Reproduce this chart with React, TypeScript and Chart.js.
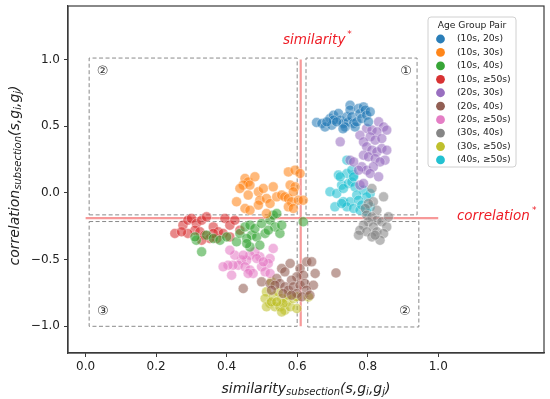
import React, { useEffect, useRef } from "react";
import { Chart, registerables } from "chart.js";

Chart.register(...registerables);

// ---------- data ----------
const groupLabels = [
  "(10s, 20s)", "(10s, 30s)", "(10s, 40s)", "(10s, \u226550s)", "(20s, 30s)",
  "(20s, 40s)", "(20s, \u226550s)", "(30s, 40s)", "(30s, \u226550s)", "(40s, \u226550s)",
];
const groupColors = [
  "31,119,180", "255,127,14", "44,160,44", "214,39,40", "148,103,189",
  "140,86,75", "227,119,194", "127,127,127", "188,189,34", "23,190,207",
];

const pts1020 = [
  [0.655, 0.527], [0.67, 0.52], [0.679, 0.494], [0.693, 0.557], [0.703, 0.582], [0.698, 0.507],
  [0.717, 0.595], [0.722, 0.545], [0.731, 0.52], [0.741, 0.57], [0.745, 0.532], [0.75, 0.657],
  [0.75, 0.62], [0.755, 0.57], [0.76, 0.52], [0.764, 0.494], [0.769, 0.532], [0.774, 0.632],
  [0.778, 0.595], [0.783, 0.557], [0.788, 0.644], [0.793, 0.62], [0.797, 0.582], [0.802, 0.532],
  [0.807, 0.607], [0.703, 0.545], [0.684, 0.532], [0.736, 0.494], [0.712, 0.532], [0.73, 0.48],
];
const pts1030 = [
  [0.452, 0.108], [0.461, 0.082], [0.447, 0.058], [0.48, 0.12], [0.4375, 0.033], [0.466, 0.058],
  [0.428, -0.067], [0.461, -0.017], [0.49, 0.008], [0.504, 0.033], [0.532, 0.045], [0.494, -0.055],
  [0.513, -0.042], [0.523, -0.08], [0.49, -0.092], [0.452, -0.117], [0.466, -0.13], [0.542, -0.03],
  [0.556, -0.017], [0.565, -0.03], [0.575, -0.042], [0.584, -0.067], [0.575, 0.157], [0.594, 0.17],
  [0.608, 0.145], [0.58, 0.058], [0.594, 0.045], [0.589, 0.008], [0.603, -0.055], [0.575, -0.105],
  [0.589, -0.117], [0.513, -0.155], [0.617, -0.055],
];
const pts1040 = [
  [0.314, -0.355], [0.31, -0.33], [0.329, -0.442], [0.343, -0.317], [0.362, -0.342], [0.381, -0.355],
  [0.4, -0.33], [0.428, -0.367], [0.4375, -0.304], [0.452, -0.255], [0.466, -0.242], [0.471, -0.317],
  [0.457, -0.342], [0.485, -0.33], [0.494, -0.392], [0.48, -0.267], [0.499, -0.23], [0.523, -0.205],
  [0.537, -0.255], [0.551, -0.304], [0.532, -0.167], [0.542, -0.155], [0.556, -0.242], [0.509, -0.304],
  [0.518, -0.28], [0.617, -0.217], [0.466, -0.405], [0.457, -0.38],
];
const pts1050 = [
  [0.253, -0.304], [0.276, -0.242], [0.29, -0.205], [0.3, -0.192], [0.314, -0.23], [0.329, -0.205],
  [0.343, -0.18], [0.31, -0.28], [0.29, -0.304], [0.324, -0.292], [0.338, -0.317], [0.362, -0.255],
  [0.376, -0.292], [0.395, -0.192], [0.409, -0.242], [0.423, -0.205], [0.39, -0.304], [0.409, -0.33],
  [0.372, -0.342], [0.352, -0.342], [0.4375, -0.28], [0.362, -0.304], [0.329, -0.355], [0.272, -0.292],
];
const pts2030 = [
  [0.831, 0.532], [0.845, 0.494], [0.854, 0.47], [0.797, 0.482], [0.812, 0.47], [0.826, 0.457],
  [0.778, 0.432], [0.807, 0.42], [0.821, 0.395], [0.84, 0.407], [0.788, 0.382], [0.722, 0.382],
  [0.797, 0.345], [0.812, 0.32], [0.826, 0.307], [0.84, 0.332], [0.854, 0.32], [0.788, 0.282],
  [0.802, 0.27], [0.821, 0.257], [0.849, 0.245], [0.835, 0.232], [0.783, 0.195], [0.797, 0.17],
  [0.75, 0.245], [0.76, 0.232], [0.774, 0.17], [0.816, 0.195], [0.807, 0.145], [0.831, 0.12],
  [0.778, 0.058], [0.788, 0.07],
];
const pts2040 = [
  [0.58, -0.529], [0.556, -0.567], [0.565, -0.592], [0.608, -0.567], [0.627, -0.517], [0.641, -0.517],
  [0.651, -0.604], [0.617, -0.617], [0.599, -0.629], [0.584, -0.654], [0.542, -0.642], [0.551, -0.679],
  [0.499, -0.667], [0.523, -0.679], [0.537, -0.692], [0.565, -0.704], [0.575, -0.729], [0.589, -0.704],
  [0.608, -0.692], [0.622, -0.679], [0.646, -0.692], [0.599, -0.754], [0.627, -0.729], [0.447, -0.717],
  [0.527, -0.729], [0.56, -0.754], [0.584, -0.767], [0.613, -0.779], [0.636, -0.767], [0.71, -0.6],
];
const pts2050 = [
  [0.532, -0.417], [0.523, -0.492], [0.518, -0.529], [0.494, -0.479], [0.48, -0.442], [0.466, -0.467],
  [0.457, -0.504], [0.442, -0.504], [0.433, -0.542], [0.418, -0.542], [0.404, -0.542], [0.39, -0.554],
  [0.423, -0.467], [0.452, -0.554], [0.466, -0.579], [0.475, -0.604], [0.499, -0.554], [0.509, -0.592],
  [0.523, -0.604], [0.461, -0.604], [0.414, -0.617], [0.485, -0.492], [0.504, -0.517], [0.447, -0.467],
  [0.409, -0.43],
];
const pts3040 = [
  [0.812, 0.033], [0.845, -0.03], [0.816, -0.067], [0.802, -0.08], [0.793, -0.117], [0.826, -0.13],
  [0.797, -0.167], [0.812, -0.18], [0.826, -0.205], [0.84, -0.217], [0.802, -0.217], [0.788, -0.242],
  [0.816, -0.255], [0.854, -0.255], [0.778, -0.28], [0.797, -0.292], [0.826, -0.292], [0.845, -0.305],
  [0.774, -0.317], [0.812, -0.33], [0.835, -0.355], [0.821, -0.317], [0.859, -0.18],
];
const pts3050 = [
  [0.527, -0.667], [0.513, -0.742], [0.509, -0.792], [0.523, -0.829], [0.513, -0.854], [0.532, -0.779],
  [0.546, -0.742], [0.556, -0.792], [0.57, -0.817], [0.537, -0.854], [0.551, -0.854], [0.565, -0.879],
  [0.58, -0.854], [0.56, -0.829], [0.527, -0.817], [0.589, -0.792], [0.575, -0.767], [0.599, -0.867],
  [0.556, -0.892], [0.542, -0.817], [0.599, -0.779], [0.632, -0.78],
];
const pts4050 = [
  [0.717, 0.133], [0.741, 0.145], [0.76, 0.133], [0.726, 0.058], [0.745, 0.07], [0.755, 0.082],
  [0.764, 0.045], [0.693, 0.008], [0.712, -0.005], [0.731, 0.033], [0.788, 0.02], [0.807, -0.005],
  [0.769, -0.017], [0.797, -0.03], [0.731, -0.067], [0.75, -0.067], [0.774, -0.055], [0.741, -0.105],
  [0.76, -0.117], [0.778, -0.13], [0.797, -0.142], [0.783, -0.092], [0.807, -0.105], [0.707, -0.105],
  [0.726, -0.08], [0.741, 0.245], [0.755, 0.17], [0.722, 0.12], [0.76, 0.12],
];
const groupPoints = [pts1020, pts1030, pts1040, pts1050, pts2030, pts2040, pts2050, pts3040, pts3050, pts4050];

const xTickValues = [0.0, 0.2, 0.4, 0.6, 0.8, 1.0];
const yTickValues = [-1.0, -0.5, 0.0, 0.5, 1.0];

const similarityStar = 0.61;
const correlationStar = -0.19;
// quadrant boxes: [xMin, xMax, yMin, yMax]
const quadBoxes = [
  [0.01, 0.6, -0.165, 1.01],
  [0.625, 0.94, -0.165, 1.01],
  [0.01, 0.6, -0.215, -1.0],
  [0.63, 0.945, -0.215, -1.005],
];
const quadLabels = ["\u2461", "\u2460", "\u2462", "\u2461"];
const quadLabelPos = [[0.048, 0.905], [0.909, 0.905], [0.049, -0.893], [0.905, -0.893]];

const FONT = "'DejaVu Sans', sans-serif";
const RED = "#ee1c25";

function drawRich(ctx: CanvasRenderingContext2D, parts: { t: string; s: number; dy?: number }[], cx: number, cy: number, color: string) {
  let w = 0;
  for (const p of parts) {
    ctx.font = `italic ${p.s}px ${FONT}`;
    w += ctx.measureText(p.t).width;
  }
  let x = cx - w / 2;
  ctx.fillStyle = color;
  ctx.textBaseline = "middle";
  ctx.textAlign = "left";
  for (const p of parts) {
    ctx.font = `italic ${p.s}px ${FONT}`;
    ctx.fillText(p.t, x, cy + (p.dy || 0));
    x += ctx.measureText(p.t).width;
  }
}

const decorPlugin = {
  id: "decor",
  afterDraw(chart: any) {
    const ctx: CanvasRenderingContext2D = chart.ctx;
    const { chartArea: ca, scales } = chart;
    const xs = scales.x, ys = scales.y;
    ctx.save();
    // frame
    ctx.strokeStyle = "#3a3a3a";
    ctx.lineWidth = 1.2;
    ctx.strokeRect(ca.left, ca.top, ca.right - ca.left, ca.bottom - ca.top);

    // quadrant labels
    ctx.fillStyle = "#333";
    ctx.font = `13px ${FONT}`;
    ctx.textAlign = "center";
    ctx.textBaseline = "middle";
    quadLabels.forEach((t, i) => {
      ctx.fillText(t, xs.getPixelForValue(quadLabelPos[i][0]), ys.getPixelForValue(quadLabelPos[i][1]));
    });

    // red labels
    const redLabel = (word: string, xv: number, yv: number) => {
      const px = xs.getPixelForValue(xv), py = ys.getPixelForValue(yv);
      ctx.font = `italic 13.5px ${FONT}`;
      ctx.fillStyle = RED;
      ctx.textAlign = "left";
      ctx.textBaseline = "middle";
      ctx.fillText(word, px, py);
      const w = ctx.measureText(word).width;
      ctx.font = `9px ${FONT}`;
      ctx.fillText("*", px + w + 2, py - 6);
    };
    redLabel("similarity", 0.56, 1.14);
    redLabel("correlation", 1.053, -0.18);

    // axis titles
    const xParts = [
      { t: "similarity", s: 14 }, { t: "subsection", s: 10, dy: 3 }, { t: "(s,g", s: 14 },
      { t: "i", s: 10, dy: 3 }, { t: ",g", s: 14 }, { t: "j", s: 10, dy: 3 }, { t: ")", s: 14 },
    ];
    drawRich(ctx, xParts, (ca.left + ca.right) / 2, 389, "#222");
    const yParts = [
      { t: "correlation", s: 14 }, { t: "subsection", s: 10, dy: 3 }, { t: "(s,g", s: 14 },
      { t: "i", s: 10, dy: 3 }, { t: ",g", s: 14 }, { t: "j", s: 10, dy: 3 }, { t: ")", s: 14 },
    ];
    ctx.save();
    ctx.translate(15, (ca.top + ca.bottom) / 2 - 4);
    ctx.rotate(-Math.PI / 2);
    drawRich(ctx, yParts, 0, 0, "#222");
    ctx.restore();

    // legend
    const lx = ca.right - 116, ly = ca.top + 11, lw = 88, lh = 150;
    ctx.fillStyle = "rgba(255,255,255,0.85)";
    ctx.strokeStyle = "#d0d0d0";
    ctx.lineWidth = 1;
    ctx.beginPath();
    (ctx as any).roundRect(lx, ly, lw, lh, 3);
    ctx.fill();
    ctx.stroke();
    ctx.fillStyle = "#222";
    ctx.font = `9.2px ${FONT}`;
    ctx.textAlign = "center";
    ctx.textBaseline = "middle";
    ctx.fillText("Age Group Pair", lx + lw / 2, ly + 8.5);
    groupLabels.forEach((lab, i) => {
      const yy = ly + 22 + i * 13.44;
      ctx.beginPath();
      ctx.arc(lx + 12.5, yy, 4.4, 0, Math.PI * 2);
      ctx.fillStyle = `rgba(${groupColors[i]},0.95)`;
      ctx.fill();
      ctx.fillStyle = "#222";
      ctx.textAlign = "left";
      ctx.fillText(lab, lx + 29, yy);
    });
    ctx.restore();
  },
};

export default function App() {
  const ref = useRef<HTMLCanvasElement>(null);
  useEffect(() => {
    document.body.style.margin = "0";
    if (!ref.current) return;
    const datasets: any[] = [];
    groupPoints.forEach((pts, i) => {
      datasets.push({
        type: "scatter",
        label: groupLabels[i],
        data: pts.map(([x, y]) => ({ x, y })),
        backgroundColor: `rgba(${groupColors[i]},0.55)`,
        borderColor: "rgba(255,255,255,0.6)",
        borderWidth: 0.6,
        pointRadius: 5,
        order: 1,
      });
    });
    quadBoxes.forEach(([x0, x1, y0, y1]) => {
      datasets.push({
        type: "scatter",
        label: "box",
        data: [{ x: x0, y: y0 }, { x: x1, y: y0 }, { x: x1, y: y1 }, { x: x0, y: y1 }, { x: x0, y: y0 }],
        showLine: true,
        borderColor: "#8a8a8a",
        borderWidth: 1,
        borderDash: [4, 2.5],
        pointRadius: 0,
        fill: false,
        order: 3,
      });
    });
    datasets.push({
      type: "scatter",
      label: "simStar",
      data: [{ x: similarityStar, y: -1.0 }, { x: similarityStar, y: 1.0 }],
      showLine: true,
      borderColor: "rgba(240,70,70,0.55)",
      borderWidth: 2.2,
      pointRadius: 0,
      order: 2,
    });
    datasets.push({
      type: "scatter",
      label: "corStar",
      data: [{ x: 0.0, y: correlationStar }, { x: 1.0, y: correlationStar }],
      showLine: true,
      borderColor: "rgba(240,70,70,0.55)",
      borderWidth: 2.2,
      pointRadius: 0,
      order: 2,
    });

    const tickFont = { family: FONT, size: 12 };
    const chart = new Chart(ref.current, {
      type: "scatter",
      data: { datasets },
      options: {
        animation: false,
        responsive: false,
        layout: { padding: { left: 0, top: 6, right: 6, bottom: 0 } },
        plugins: { legend: { display: false }, tooltip: { enabled: false } },
        scales: {
          x: {
            type: "linear",
            min: -0.05,
            max: 1.3,
            afterBuildTicks: (axis: any) => {
              axis.ticks = xTickValues.map((v) => ({ value: v }));
            },
            afterFit: (axis: any) => {
              axis.height = 46;
              axis.paddingLeft = 0;
              axis.paddingRight = 0;
              axis.paddingTop = 0;
              axis.paddingBottom = 0;
            },
            ticks: {
              font: tickFont,
              color: "#222",
              padding: 3,
              maxRotation: 0,
              callback: (v: any) => Number(v).toFixed(1),
            },
            grid: { drawOnChartArea: false, drawTicks: true, tickLength: 4, color: "#3a3a3a" },
            border: { display: true, color: "#3a3a3a", width: 1.2 },
          },
          y: {
            type: "linear",
            min: -1.2,
            max: 1.4,
            afterBuildTicks: (axis: any) => {
              axis.ticks = yTickValues.map((v) => ({ value: v }));
            },
            afterFit: (axis: any) => {
              axis.width = 68;
              axis.paddingLeft = 0;
              axis.paddingRight = 0;
              axis.paddingTop = 0;
              axis.paddingBottom = 0;
            },
            ticks: {
              font: tickFont,
              color: "#222",
              padding: 4,
              callback: (v: any) => {
                const n = Number(v);
                return n < 0 ? "\u2212" + Math.abs(n).toFixed(1) : n.toFixed(1);
              },
            },
            grid: { drawOnChartArea: false, drawTicks: true, tickLength: 4, color: "#3a3a3a" },
            border: { display: true, color: "#3a3a3a", width: 1.2 },
          },
        },
      } as any,
      plugins: [decorPlugin],
    });
    return () => chart.destroy();
  }, []);
  return (
    <div style={{ width: 550, height: 399 }}>
      <canvas ref={ref} width={550} height={399} style={{ display: "block" }} />
    </div>
  );
}
